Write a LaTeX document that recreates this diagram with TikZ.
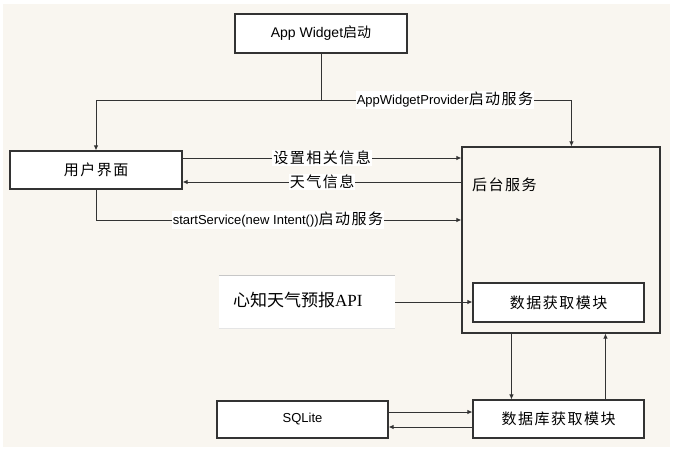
\documentclass[tikz,border=0pt]{standalone}
\usepackage{fontspec}
\setmainfont{Liberation Sans}
\newfontfamily\cjk[LetterSpace=10]{Noto Sans CJK SC}
\newfontfamily\cjkplain{Noto Sans CJK SC}
\newfontfamily\apiserif{Liberation Serif}
\newcommand\zhlbl[1]{{\fontsize{15}{15}\selectfont\cjk #1}}
\usetikzlibrary{arrows.meta}
\definecolor{bgbeige}{HTML}{F9F6F0}
\definecolor{ln}{HTML}{333333}
\begin{document}
\begin{tikzpicture}[x=1pt,y=-1pt,
  box/.style={draw=ln,line width=1.1pt,fill=white,inner sep=0pt},
  frame/.style={draw=ln,line width=1.1pt,inner sep=0pt},
  conn/.style={draw=ln,line width=0.9pt},
  arr/.style={conn,-{Latex[length=5pt,width=4.5pt]}},
  lbl/.style={fill=white,inner sep=1pt,font=\fontsize{13}{15}\selectfont},
  cjkbig/.style={font=\fontsize{15}{17}\selectfont\cjk}]
\useasboundingbox (0,0) rectangle (676,454);
\fill[white] (0,0) rectangle (676,454);
\fill[bgbeige] (3,4) rectangle (670,447);

% nodes
\node[box,minimum width=172pt,minimum height=39pt,font=\fontsize{14}{16}\selectfont] (appw) at (321,33.5) {App Widget{\cjkplain 启动}};
\node[box,minimum width=172pt,minimum height=38pt,cjkbig] (ui) at (96,170) {用户界面};
\node[frame,minimum width=198pt,minimum height=186pt] (bg) at (561,240) {};
\node[anchor=west,inner sep=0pt,cjkbig] (bgtext) at (472,185) {后台服务};
\node[box,minimum width=171pt,minimum height=39pt,cjkbig] (fetch) at (558.5,302.5) {数据获取模块};
\node[box,minimum width=171pt,minimum height=38pt,cjkbig] (db) at (558.5,419) {数据库获取模块};
\node[box,minimum width=171pt,minimum height=37pt,font=\fontsize{13}{15}\selectfont] (sql) at (302.5,419.5) {SQLite};
\node[fill=white,inner sep=0pt,minimum width=176pt,minimum height=52pt] (api) at (307,302) {};
\draw[black!22,line width=0.8pt] (api.north west) -- (api.north east);
\draw[black!10,line width=0.8pt] (api.south west) -- (api.south east);
\node[anchor=west,inner sep=0pt,font=\fontsize{17}{19}\selectfont] (apitext) at (233,300) {{\cjkplain 心知天气预报}{\apiserif API}};

% top split
\coordinate (split) at (appw.south |- 0,100);
\draw[conn] (appw.south) -- (split);
\draw[arr] (split) -| (ui.north);
\draw[arr] (split) -| ([xshift=110pt]bg.north west);
\node[lbl] (l1) at (445,100) {AppWidgetProvider\zhlbl{启动服务}};

% ui <-> bg
\draw[arr] (ui.east |- 0,158) -- (bg.west |- 0,158);
\node[lbl] (l2) at (322,158) {\zhlbl{设置相关信息}};
\draw[arr] (bg.west |- 0,182) -- (ui.east |- 0,182);
\node[lbl] (l3) at (322,182) {\zhlbl{天气信息}};
\draw[arr] (ui.south) |- (bg.west |- 0,220);
\node[lbl] (l4) at (278,220) {startService(new Intent())\zhlbl{启动服务}};

% api -> fetch
\draw[arr] (api.east) -- (fetch.west |- api.east);

% bg <-> db
\draw[arr] ([xshift=50pt]bg.south west) -- ([xshift=50pt]bg.south west |- db.north);
\draw[arr] ([xshift=144pt]bg.south west |- db.north) -- ([xshift=144pt]bg.south west);

% sql <-> db
\draw[arr] (sql.east |- 0,412) -- (db.west |- 0,412);
\draw[arr] (db.west |- 0,427) -- (sql.east |- 0,427);
\end{tikzpicture}
\end{document}
